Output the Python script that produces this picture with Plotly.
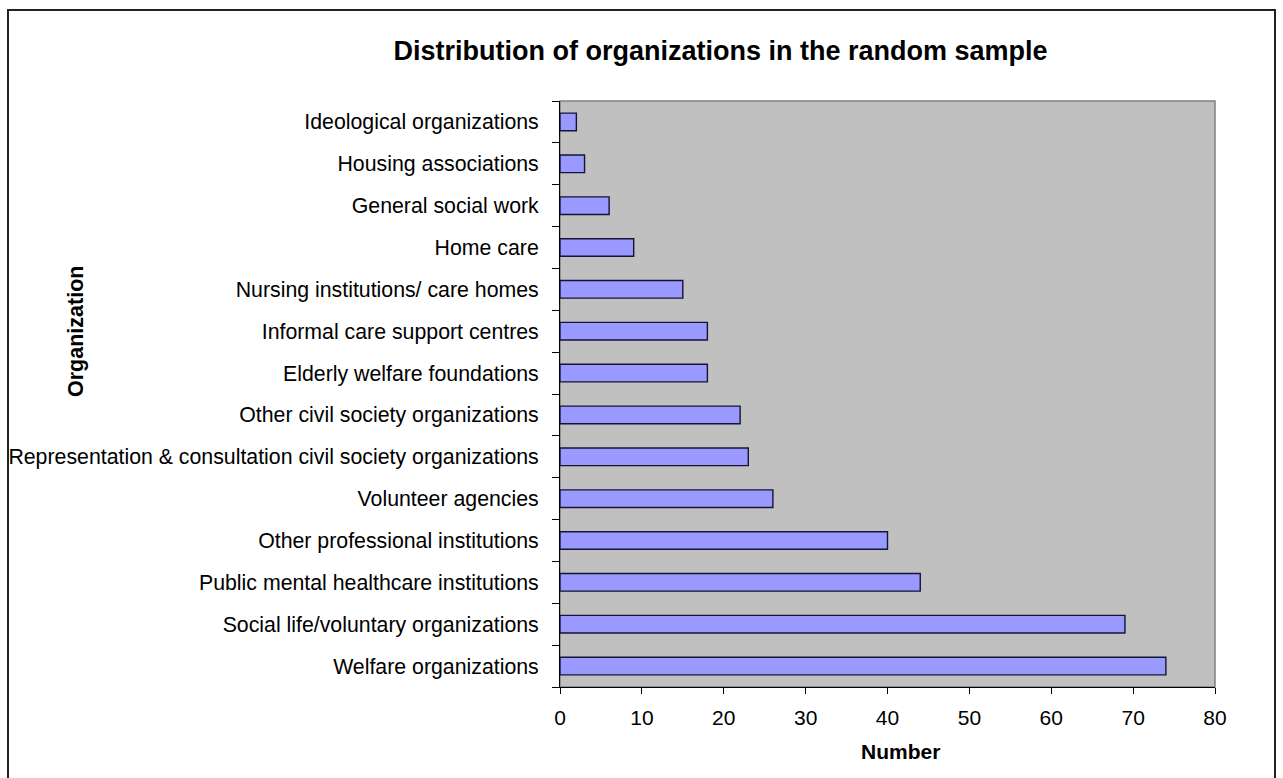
import plotly.graph_objects as go

categories = [
    "Welfare organizations",
    "Social life/voluntary organizations",
    "Public mental healthcare institutions",
    "Other professional institutions",
    "Volunteer agencies",
    "Representation & consultation civil society organizations",
    "Other civil society organizations",
    "Elderly welfare foundations",
    "Informal care support centres",
    "Nursing institutions/ care homes",
    "Home care",
    "General social work",
    "Housing associations",
    "Ideological organizations",
]
counts = [74, 69, 44, 40, 26, 23, 22, 18, 18, 15, 9, 6, 3, 2]
x_ticks = [0, 10, 20, 30, 40, 50, 60, 70, 80]

FONT = "Liberation Sans, Arial, sans-serif"

W, H = 1283, 778
L, R, T, B = 560, 1215, 101, 687

def px(x):
    return (x - L) / (R - L)

def py(y):
    return (B - y) / (B - T)

fig = go.Figure()
fig.add_trace(go.Bar(
    x=counts, y=categories, orientation="h",
    marker=dict(color="#9999FF", line=dict(color="#141433", width=1.4)),
    width=0.42,
    hoverinfo="x+y",
))

fig.update_layout(
    width=W, height=H,
    margin=dict(l=L, r=W - R, t=T, b=H - B, pad=0, autoexpand=False),
    paper_bgcolor="white",
    plot_bgcolor="#C0C0C0",
    showlegend=False,
    title=dict(
        text="<b>Distribution of organizations in the random sample</b>",
        x=px(720.5), xref="paper", xanchor="center",
        y=1 - 51 / H, yref="container", yanchor="middle",
        font=dict(family=FONT, size=27, color="black"),
    ),
    xaxis=dict(
        range=[0, 80], tickvals=x_ticks,
        automargin=False,
        showgrid=False, zeroline=False,
        showline=True, linecolor="black", linewidth=1,
        ticks="outside", ticklen=6, tickcolor="black", tickwidth=1,
        ticklabelstandoff=6,
        tickfont=dict(family=FONT, size=21, color="black"),
        title=dict(text=""),
    ),
    yaxis=dict(
        type="category",
        automargin=False,
        range=[-0.5, len(categories) - 0.5],
        showgrid=False, zeroline=False,
        showline=True, linecolor="black", linewidth=1,
        ticks="outside", ticklen=7, tickcolor="black", tickwidth=1,
        tickson="boundaries",
        ticklabelstandoff=16,
        tickfont=dict(family=FONT, size=21.3, color="black"),
        title=dict(text=""),
    ),
    shapes=[
        dict(type="rect", xref="paper", yref="paper", x0=0, x1=1, y0=0, y1=1,
             line=dict(color="#808080", width=1.5), fillcolor="rgba(0,0,0,0)", layer="below"),
        dict(type="rect", xref="paper", yref="paper",
             x0=px(8), x1=px(1275), y0=py(10), y1=py(800),
             line=dict(color="#222222", width=2), fillcolor="rgba(0,0,0,0)", layer="below"),
    ],
    annotations=[
        dict(text="<b>Organization</b>", xref="paper", yref="paper",
             x=px(76), y=py(331), textangle=-90, showarrow=False,
             xanchor="center", yanchor="middle",
             font=dict(family=FONT, size=21.5, color="black")),
        dict(text="<b>Number</b>", xref="paper", yref="paper",
             x=px(900), y=py(751), showarrow=False,
             xanchor="center", yanchor="middle",
             font=dict(family=FONT, size=21, color="black")),
    ],
)

fig.write_html("out.html")
